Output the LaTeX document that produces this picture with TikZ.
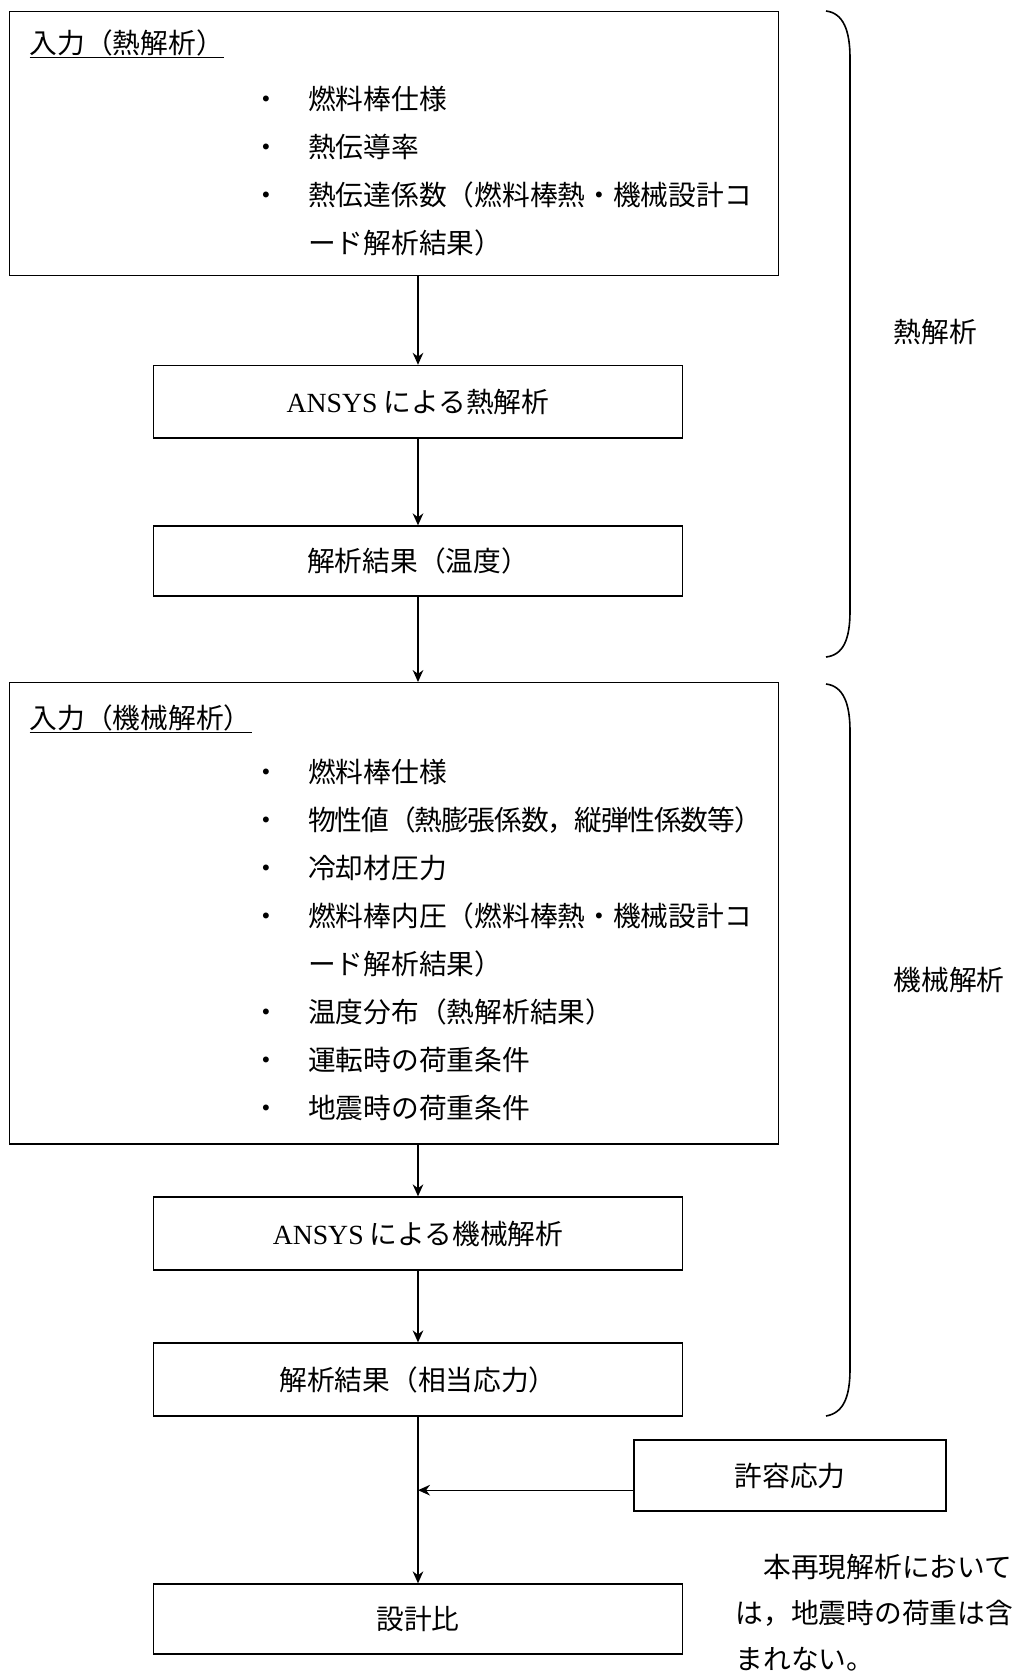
\documentclass[tikz,border=0pt]{standalone}
\usepackage{fontspec}
\setmainfont{Noto Sans CJK JP}
\newfontfamily\ansysfont{Liberation Serif}
\usetikzlibrary{arrows.meta}

\begin{document}
\begin{tikzpicture}[x=0.75pt, y=-0.75pt, line width=1pt,
    font=\fontsize{20.8}{36}\selectfont,
    box/.style={draw, minimum width=396.75pt, minimum height=54pt, inner sep=0pt},
    bigbox/.style={draw, minimum width=577pt, anchor=north west, inner sep=0pt},
    itemlist/.style={anchor=west, align=left, inner sep=0pt},
    flow/.style={-{Stealth[length=9pt, width=8pt]}},
    curlyline/.style={line width=1.2pt}]
    \useasboundingbox (0,0) rectangle (1027,1675);

    % thermal analysis
    \node[bigbox, minimum height=198pt] (inheat) at (8.5,10.7) {};
    \node[itemlist] (tinheat) at (29,44) {\underline{入力（熱解析）}};
    \node[itemlist] (listheat) at (252,171) {・\quad 燃料棒仕様\\・\quad 熱伝導率\\・\quad 熱伝達係数（燃料棒熱・機械設計コ\\\hphantom{・\quad}ード解析結果）};
    \node[box, minimum height=54.4pt] (anheat) at (418,401.7) {{\ansysfont ANSYS} による熱解析};
    \node[box, minimum height=52.5pt] (resheat) at (418,561) {解析結果（温度）};

    % mechanical analysis
    \node[bigbox, minimum height=346pt] (inmech) at (8.5,682) {};
    \node[itemlist] (tinmech) at (29,719) {\underline{入力（機械解析）}};
    \node[itemlist] (listmech) at (252,940) {・\quad 燃料棒仕様\\・\quad {\addfontfeature{LetterSpace=-4}物性値（熱膨張係数，縦弾性係数等）}\\・\quad 冷却材圧力\\・\quad 燃料棒内圧（燃料棒熱・機械設計コ\\\hphantom{・\quad}ード解析結果）\\・\quad 温度分布（熱解析結果）\\・\quad 運転時の荷重条件\\・\quad 地震時の荷重条件};
    \node[box, minimum height=54.75pt] (anmech) at (418,1233.5) {{\ansysfont ANSYS} による機械解析};
    \node[box, minimum height=54.75pt] (resmech) at (418,1379.5) {解析結果（相当応力）};
    \node[box, minimum width=234pt, minimum height=53.25pt] (allow) at (790,1475.5) {許容応力};
    \node[box, minimum height=52.5pt] (ratio) at (418,1619) {設計比};
    \coordinate (allowin) at ([yshift=-11pt]allow.west);

    \draw[flow] (inheat.south -| anheat.north) -- (anheat.north);
    \draw[flow] (anheat) -- (resheat);
    \draw[flow] (resheat) -- (inmech.north -| resheat.south);
    \draw[flow] (inmech.south -| anmech.north) -- (anmech.north);
    \draw[flow] (anmech) -- (resmech);
    \draw[flow] (resmech) -- (ratio);
    \draw[flow] (allowin) -- (allowin -| ratio.north);

    % braces on the right
    \draw[curlyline] (826,11) .. controls (843,13) and (850,30) .. (850,58) -- (850,611) .. controls (850,640) and (843,655) .. (826,657);
    \draw[curlyline] (826,684) .. controls (843,686) and (850,703) .. (850,731) -- (850,1369) .. controls (850,1398) and (843,1413) .. (826,1416);
    \node[itemlist] (lheat) at (893,332) {熱解析};
    \node[itemlist] (lmech) at (893,980) {機械解析};

    \node[itemlist, font=\fontsize{20.8}{34.5}\selectfont] (note) at (735,1613) {　本再現解析において\\は，地震時の荷重は含\\まれない。};
\end{tikzpicture}
\end{document}
